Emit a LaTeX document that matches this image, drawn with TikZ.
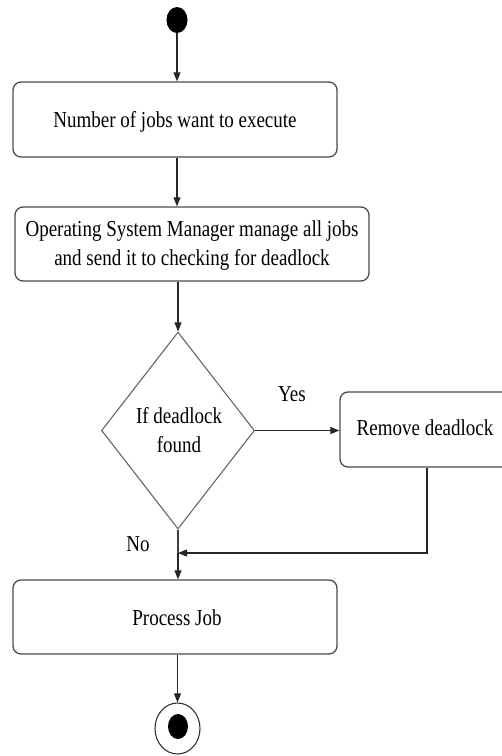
\documentclass[tikz,border=0pt]{standalone}
\usepackage{fontspec}
\setmainfont{Liberation Serif}
\usetikzlibrary{arrows.meta,shapes.geometric}
\usepackage{graphicx}

% text in the boxes is set slightly tall
\newcommand{\tallbox}[1]{\scalebox{1}[1.2]{\begin{tabular}{@{}c@{}}#1\end{tabular}}}

\begin{document}
\begin{tikzpicture}[x=1pt,y=-1pt,
  font=\fontsize{19}{24}\selectfont,
  activity/.style={draw=black!70, line width=1.3pt, rounded corners=8pt,
    inner sep=0pt, minimum height=75pt},
  decision/.style={diamond, draw=black!60, line width=1.1pt, inner sep=0pt,
    minimum width=153pt, minimum height=197pt},
  flow/.style={draw=black!85, line width=1.1pt,
    -{Triangle[length=9pt,width=7pt]}},
  plain/.style={draw=black!75, line width=1.1pt},
  lbl/.style={inner sep=0pt}]
  \useasboundingbox (0,0) rectangle (502,756);
  \clip (0,0) rectangle (502,756);

  % start and end states
  \node (start) [ellipse, fill=black, inner sep=0pt, minimum width=21pt, minimum height=26pt] at (177,20) {};
  \node (endo) [ellipse, draw=black!80, line width=1.1pt, inner sep=0pt, minimum width=45pt, minimum height=51pt] at (177.5,728.5) {};
  \node (endi) [ellipse, fill=black, inner sep=0pt, minimum width=20pt, minimum height=25pt] at (178,726.5) {};

  % activities
  \node (jobs) [activity, minimum width=324pt] at (175,119.5) {};
  \node [lbl] at (175,122) {\tallbox{Number of jobs want to execute}};

  \node (osm) [activity, minimum width=354pt, minimum height=74pt] at (192,244) {};
  \node [lbl] at (192,245) {\tallbox{Operating System Manager manage all jobs\\ and send it to checking for deadlock}};

  \node (dec) [decision] at (178,430.5) {};
  \node [lbl] at (179,432) {\tallbox{If deadlock\\ found}};

  \node (rem) [activity, minimum width=174pt] at (427,429.5) {};
  \node [lbl] at (425,430) {\tallbox{Remove deadlock}};

  \node (proc) [activity, minimum width=324pt, minimum height=74pt] at (175,617) {};
  \node [lbl] at (177,620) {\tallbox{Process Job}};

  % guard labels
  \node [lbl] at (292,396) {\tallbox{Yes}};
  \node [lbl] at (138,546) {\tallbox{No}};

  % merge point below the decision
  \coordinate (merge) at (178,553);

  % transitions
  \draw[flow] (start) -- (start |- jobs.north);
  \draw[flow] (jobs.south -| start) -- (osm.north -| start);
  \draw[flow] (osm.south -| dec) -- (dec.north);
  \draw[flow] (dec.east) -- (dec.east -| rem.west);
  \draw[plain] (dec.south) -- (merge);
  \draw[flow] (rem.south) |- (merge);
  \draw[flow] (merge) -- (proc.north -| merge);
  \draw[flow] (proc.south -| endo) -- (endo.north);
\end{tikzpicture}
\end{document}
